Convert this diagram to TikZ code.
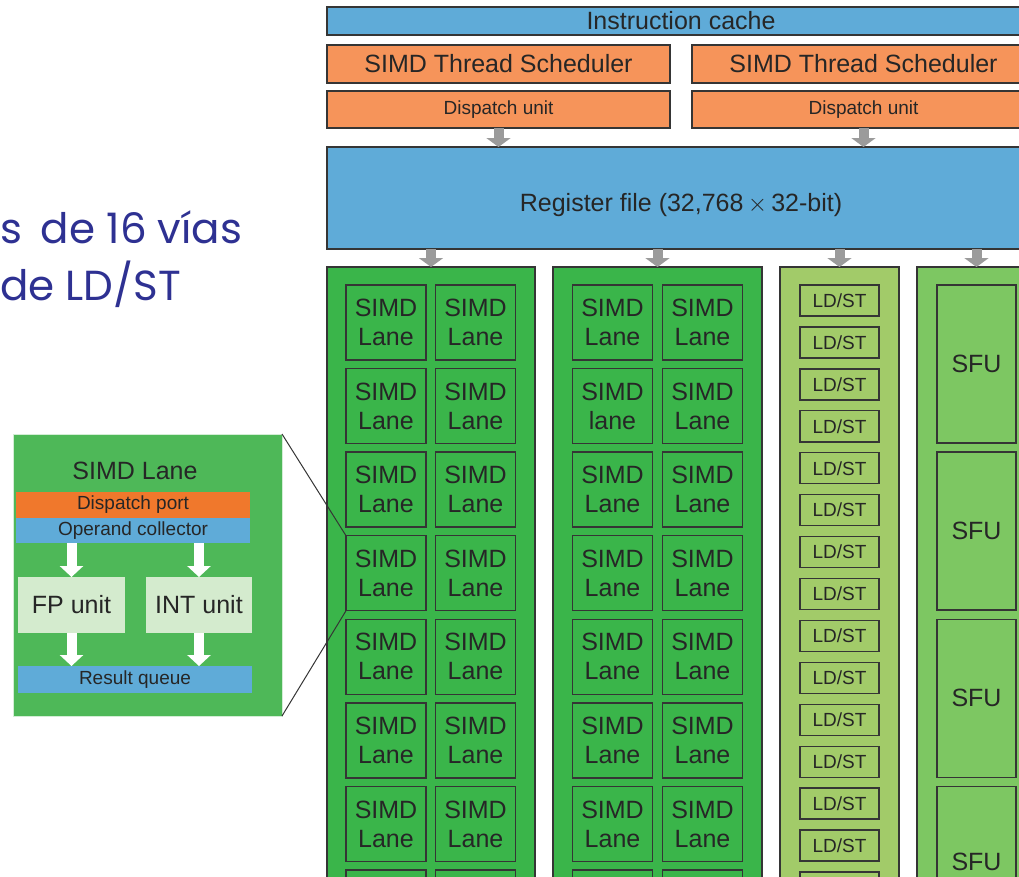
\documentclass[tikz,border=0pt]{standalone}
\usepackage{fontspec}
\setmainfont{Liberation Sans}
\newfontfamily\comicf{Poppins}
\usetikzlibrary{arrows.meta}
\definecolor{cblue}{HTML}{5FABD8}
\definecolor{corange}{HTML}{F6945A}
\definecolor{cgreen}{HTML}{3AB54A}
\definecolor{cldst}{HTML}{A2CB69}
\definecolor{csfu}{HTML}{7DC762}
\definecolor{cinset}{HTML}{4EB858}
\definecolor{cdport}{HTML}{F0782C}
\definecolor{cunit}{HTML}{D4EBCE}
\definecolor{cline}{HTML}{353535}
\definecolor{ctext}{HTML}{262626}
\definecolor{carrow}{HTML}{9B9B9B}
\definecolor{cnavy}{HTML}{2E3192}
\newcommand\szA{\fontsize{25}{29}\selectfont}
\newcommand\szB{\fontsize{19}{22}\selectfont}
\begin{document}
\begin{tikzpicture}[x=1pt,y=-1pt,
  blk/.style={draw=cline,line width=1.4pt,inner sep=0pt,outer sep=0pt,anchor=north west,text=ctext},
  lane/.style={blk,fill=cgreen,minimum width=80pt,minimum height=75pt,align=center,font=\szA},
  ldst/.style={blk,fill=cldst,minimum width=79pt,minimum height=31pt,font=\szB},
  sfu/.style={blk,fill=csfu,minimum width=79pt,minimum height=158pt,font=\szA},
  flat/.style={inner sep=0pt,outer sep=0pt,anchor=north west,text=ctext},
  garrow/.style={draw=carrow,line width=10pt,-{Triangle[width=24pt,length=9pt]}},
  warrow/.style={draw=white,line width=10pt,-{Triangle[width=23pt,length=11pt]}},
  zoomline/.style={draw=cline,line width=1pt}]
\useasboundingbox (0,0) rectangle (1019,876);
\clip (0,0) rectangle (1019,876);

% left caption
\node[anchor=base west,inner sep=0pt,text=cnavy,font=\comicf\fontsize{42}{50}\selectfont] (cap1) at (0,243) {s\hspace{0.45em}de 16 vías};
\node[anchor=base west,inner sep=0pt,text=cnavy,font=\comicf\fontsize{42}{50}\selectfont] (cap2) at (0,300) {de LD/ST};

% top
\node[blk,fill=cblue,minimum width=708pt,minimum height=28pt,font=\szA] (icache) at (327,7) {Instruction cache};
\node[blk,fill=corange,minimum width=343pt,minimum height=38pt,font=\szA] (sch1) at (327,45) {SIMD Thread Scheduler};
\node[blk,fill=corange,minimum width=343pt,minimum height=38pt,font=\szA] (sch2) at (692,45) {SIMD Thread Scheduler};
\node[blk,fill=corange,minimum width=343pt,minimum height=37pt,font=\szB] (dsp1) at (327,91) {Dispatch unit};
\node[blk,fill=corange,minimum width=343pt,minimum height=37pt,font=\szB] (dsp2) at (692,91) {Dispatch unit};
\node[blk,fill=cblue,minimum width=708pt,minimum height=102pt] (rf) at (327,147) {};
\node[font=\szA,text=ctext,inner sep=0pt] (rftext) at ([yshift=-7pt]rf.center) {Register file (32,768\,$\times$\,32-bit)};

% columns
\node[blk,fill=cgreen,minimum width=208pt,minimum height=700pt] (b1) at (327,267) {};
\node[blk,fill=cgreen,minimum width=209pt,minimum height=700pt] (b2) at (553,267) {};
\node[blk,fill=cldst,minimum width=119pt,minimum height=700pt] (b3) at (780,267) {};
\node[blk,fill=csfu,minimum width=119pt,minimum height=700pt] (b4) at (917,267) {};

\draw[garrow] (dsp1.south) -- (dsp1.south |- rf.north);
\draw[garrow] (dsp2.south) -- (dsp2.south |- rf.north);
\draw[garrow] (rf.south -| b1.north) -- (b1.north);
\draw[garrow] (rf.south -| b2.north) -- (b2.north);
\draw[garrow] (rf.south -| b3.north) -- (b3.north);
\draw[garrow] (rf.south -| b4.north) -- (b4.north);

% SIMD lanes
\foreach \r in {1,...,7}{
  \node[lane] (p-\r-1) at (346,{285+(\r-1)*83.57}) {SIMD\\Lane};
  \node[lane] (p-\r-2) at (435.5,{285+(\r-1)*83.57}) {SIMD\\Lane};
  \node[lane] (q-\r-2) at (662.5,{285+(\r-1)*83.57}) {SIMD\\Lane};
}
\foreach \r in {1,3,4,5,6,7}{
  \node[lane] (q-\r-1) at (572.5,{285+(\r-1)*83.57}) {SIMD\\Lane};
}
\node[lane] (q-2-1) at (572.5,{285+83.57}) {SIMD\\lane};
% last row, only its top edge is in view
\node[lane] (p-8-1) at (346,{285+7*83.57}) {};
\node[lane] (p-8-2) at (435.5,{285+7*83.57}) {};
\node[lane] (q-8-1) at (572.5,{285+7*83.57}) {};
\node[lane] (q-8-2) at (662.5,{285+7*83.57}) {};

% LD/ST
\foreach \i in {1,...,14}{
  \node[ldst] (ls-\i) at (800,{285+(\i-1)*41.93}) {LD/ST};
}
\node[ldst] (ls-15) at (800,{285+14*41.93}) {};
% SFU
\foreach \i in {1,...,3}{
  \node[sfu] (sfu-\i) at (937,{285+(\i-1)*167.1}) {SFU};
}
\node[sfu] (sfu-4) at (937,{285+3*167.1}) {};
\node[font=\szA,text=ctext,inner sep=0pt] (sfu4text) at ([yshift=-76pt]sfu-4.north) {SFU};

% inset
\node[flat,fill=cinset,draw=white!75!cinset,line width=0.8pt,minimum width=269pt,minimum height=282pt] (inset) at (13,434) {};
\node[text=ctext,font=\szA,inner sep=0pt] (ititle) at (135,471) {SIMD Lane};
\node[flat,fill=cdport,minimum width=234pt,minimum height=26pt,font=\szB] (dport) at (16,492) {Dispatch port};
\node[flat,fill=cblue,minimum width=234pt,minimum height=25pt,font=\szB] (opc) at (16,518) {Operand collector};
\node[flat,fill=cunit,minimum width=107pt,minimum height=56pt,font=\szA] (fpu) at (18,577) {FP unit};
\node[flat,fill=cunit,minimum width=106pt,minimum height=56pt,font=\szA] (intu) at (146,577) {INT unit};
\node[flat,fill=cblue,minimum width=234pt,minimum height=27pt,font=\szB] (rq) at (18,666) {Result queue};
\draw[warrow] (opc.south -| fpu.north) -- (fpu.north);
\draw[warrow] (opc.south -| intu.north) -- (intu.north);
\draw[warrow] (fpu.south) -- (fpu.south |- rq.north);
\draw[warrow] (intu.south) -- (intu.south |- rq.north);

\draw[zoomline] (inset.north east) -- (p-4-1.north west);
\draw[zoomline] (inset.south east) -- (p-4-1.south west);
\end{tikzpicture}
\end{document}
